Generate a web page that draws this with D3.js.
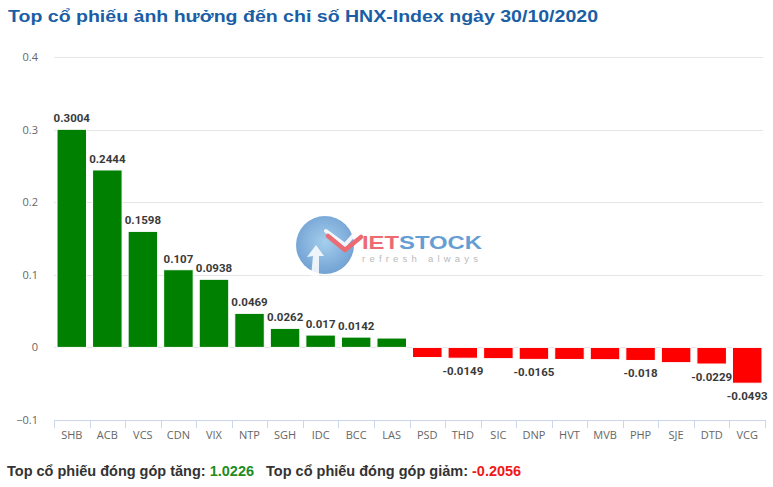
<!DOCTYPE html>
<html>
<head>
<meta charset="utf-8">
<script src="https://cdn.jsdelivr.net/npm/d3@7/dist/d3.min.js"></script>
<style>
  html, body { margin: 0; padding: 0; background: #fff; }
  svg { display: block; }
</style>
</head>
<body>
<svg id="chart" width="773" height="487"></svg>
<script>
const titleText = "Top cổ phiếu ảnh hưởng đến chỉ số HNX-Index ngày 30/10/2020";
const categories = ["SHB","ACB","VCS","CDN","VIX","NTP","SGH","IDC","BCC","LAS","PSD","THD","SIC","DNP","HVT","MVB","PHP","SJE","DTD","VCG"];
const values = [0.3004,0.2444,0.1598,0.107,0.0938,0.0469,0.0262,0.017,0.0142,0.0129,-0.014,-0.0149,-0.0155,-0.0165,-0.0166,-0.0169,-0.018,-0.021,-0.0229,-0.0493];
const labelShown = [true,true,true,true,true,true,true,true,true,false,false,true,false,true,false,false,true,false,true,true];
const yTicks = [-0.1, 0, 0.1, 0.2, 0.3, 0.4];
const footerUpLabel = "Top cổ phiếu đóng góp tăng: ";
const footerUpValue = "1.0226";
const footerDownLabel = "Top cổ phiếu đóng góp giảm: ";
const footerDownValue = "-0.2056";

const svg = d3.select("#chart");
const plotLeft = 54, plotRight = 765, plotTop = 57, plotBottom = 420;

const x = d3.scaleBand().domain(categories).range([plotLeft, plotRight]).paddingInner(0.17).paddingOuter(0.085);
const xb = d3.scaleBand().domain(categories).range([plotLeft, plotRight]);
const y = d3.scaleLinear().domain([-0.1, 0.4]).range([plotBottom, plotTop]);

// Title
svg.append("text").attr("x", 8).attr("y", 22)
  .attr("font-family", "Arial, 'Liberation Sans', sans-serif")
  .attr("font-weight", "bold").attr("font-size", 17)
  .attr("textLength", 590).attr("lengthAdjust", "spacingAndGlyphs")
  .attr("fill", "#1a5ea6").text(titleText);

// Grid lines
svg.append("g").selectAll("line").data(yTicks.filter(d => d > -0.1)).join("line")
  .attr("x1", plotLeft).attr("x2", 763)
  .attr("y1", d => Math.round(y(d)) + 0.5).attr("y2", d => Math.round(y(d)) + 0.5)
  .attr("stroke", "#e6e6e6").attr("stroke-width", 1);

// Y axis labels
const yAxis = d3.axisLeft(y).tickValues(yTicks).tickSize(0).tickPadding(0)
  .tickFormat(d => d === 0 ? "0" : d3.format(".1f")(d).replace("-", "−"));
const yg = svg.append("g").attr("transform", `translate(38,0)`).call(yAxis);
yg.select(".domain").remove();
yg.selectAll("text").attr("font-family", "'Open Sans', 'Noto Sans', sans-serif")
  .attr("font-size", 11).attr("fill", "#666");

// Watermark logo
const wm = svg.append("g").attr("opacity", 0.8);
const defs = svg.append("defs");
const grad = defs.append("radialGradient").attr("id", "lg").attr("cx", "50%").attr("cy", "45%").attr("r", "60%");
grad.append("stop").attr("offset", "0%").attr("stop-color", "#8fc3ea");
grad.append("stop").attr("offset", "100%").attr("stop-color", "#4a86c6");
wm.append("circle").attr("cx", 325).attr("cy", 245).attr("r", 29).attr("fill", "url(#lg)");
wm.append("path").attr("d", "M311,276 L313,256 L307,257 L316,245 L324,256 L319,256 L319,276 Z").attr("fill", "#fff").attr("opacity", 0.85);
wm.append("path").attr("d", "M326,231 L345,245 L358,230").attr("fill", "none")
  .attr("stroke", "#fff").attr("stroke-width", 4).attr("stroke-linecap", "round").attr("stroke-linejoin", "round").attr("opacity", 0.9);
wm.append("path").attr("d", "M328,236 L345,250 L361,237").attr("fill", "none")
  .attr("stroke", "#e8474f").attr("stroke-width", 4.5).attr("stroke-linecap", "round").attr("stroke-linejoin", "round");
wm.append("text").attr("x", 362).attr("y", 249)
  .attr("font-family", "Arial, sans-serif").attr("font-size", 19).attr("font-weight", "bold")
  .attr("textLength", 120).attr("lengthAdjust", "spacingAndGlyphs")
  .call(t => {
    t.append("tspan").attr("fill", "#e8474f").text("IET");
    t.append("tspan").attr("fill", "#3f86c8").text("STOCK");
  });
wm.append("text").attr("x", 362).attr("y", 262)
  .attr("font-family", "Arial, sans-serif").attr("font-size", 9.5)
  .attr("fill", "#aaa").attr("textLength", 116).attr("lengthAdjust", "spacing")
  .text("refresh always");

// Bars
svg.append("g").selectAll("rect").data(categories).join("rect")
  .attr("x", d => x(d))
  .attr("width", x.bandwidth())
  .attr("y", (d, i) => values[i] >= 0 ? y(values[i]) : y(0))
  .attr("height", (d, i) => Math.abs(y(values[i]) - y(0)))
  .attr("fill", (d, i) => values[i] >= 0 ? "#008000" : "#ff0000")
  .attr("stroke", "#fff").attr("stroke-width", 1);

// X axis
const xAxisG = svg.append("g");
xAxisG.append("line").attr("x1", plotLeft).attr("x2", plotRight)
  .attr("y1", plotBottom + 0.5).attr("y2", plotBottom + 0.5).attr("stroke", "#ccd6eb");
const boundaries = categories.map(c => xb(c)).concat([plotRight]);
xAxisG.selectAll(".tk").data(boundaries).join("line").attr("class", "tk")
  .attr("x1", d => Math.round(d) + 0.5).attr("x2", d => Math.round(d) + 0.5)
  .attr("y1", plotBottom).attr("y2", plotBottom + 8).attr("stroke", "#ccd6eb");
xAxisG.selectAll(".lb").data(categories).join("text").attr("class", "lb")
  .attr("x", d => xb(d) + xb.bandwidth() / 2).attr("y", 439)
  .attr("text-anchor", "middle")
  .attr("font-family", "'Open Sans', 'Noto Sans', sans-serif").attr("font-size", 11)
  .attr("fill", "#666").text(d => d);

// Value labels
svg.append("g").selectAll("text").data(categories.filter((d, i) => labelShown[i])).join("text")
  .attr("x", d => x(d) + x.bandwidth() / 2)
  .attr("y", d => { const v = values[categories.indexOf(d)]; return v >= 0 ? y(v) - 7 : y(v) + 17; })
  .attr("text-anchor", "middle")
  .attr("font-family", "Roboto, 'Open Sans', sans-serif").attr("font-size", 11.5).attr("font-weight", "bold")
  .attr("fill", "#3a3a3a")
  .attr("stroke", "#fff").attr("stroke-width", 2).attr("paint-order", "stroke")
  .text(d => String(values[categories.indexOf(d)]));

// Footer
const ft = svg.append("text").attr("x", 7).attr("y", 476)
  .attr("font-family", "Arial, 'Liberation Sans', sans-serif").attr("font-size", 14.5).attr("font-weight", "bold");
ft.append("tspan").attr("fill", "#333").text(footerUpLabel);
ft.append("tspan").attr("fill", "#1e8c1e").text(footerUpValue);
ft.append("tspan").attr("fill", "#333").attr("dx", 12).text(footerDownLabel);
ft.append("tspan").attr("fill", "#f01818").text(footerDownValue);
</script>
</body>
</html>
